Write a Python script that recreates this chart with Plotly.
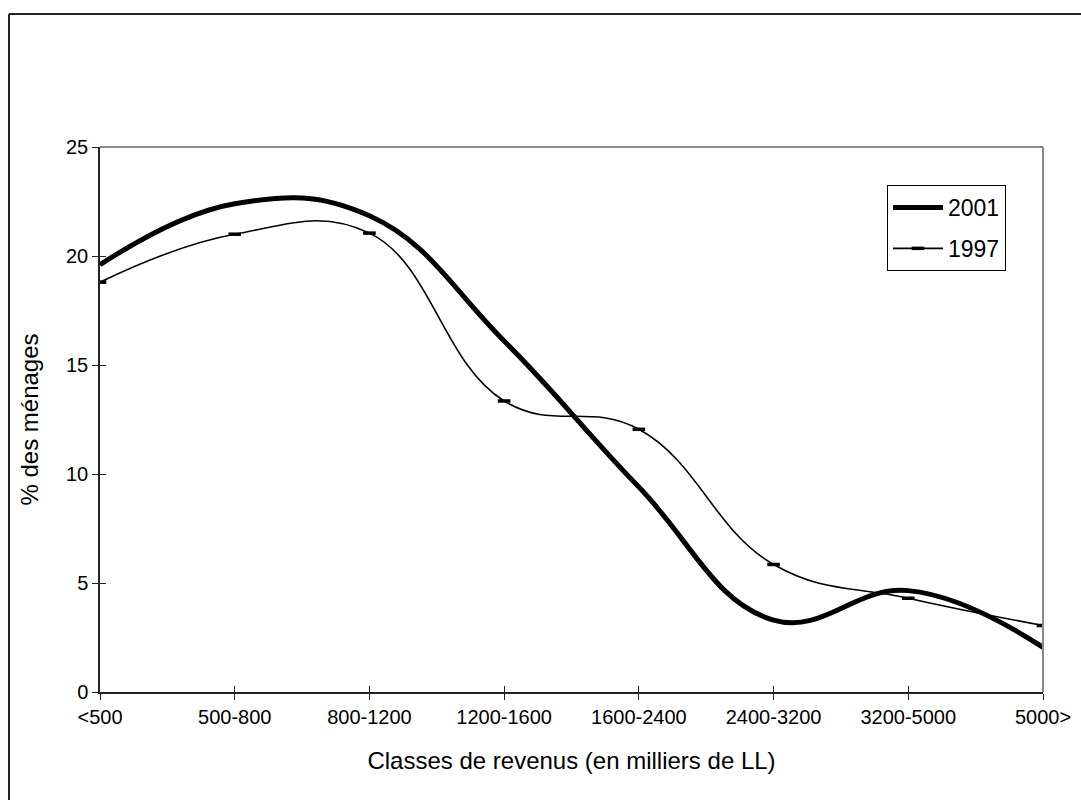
import plotly.graph_objects as go

categories = ["<500", "500-800", "800-1200", "1200-1600", "1600-2400", "2400-3200", "3200-5000", "5000>"]
values_2001 = [19.6, 22.4, 21.85, 16.1, 9.4, 3.3, 4.65, 2.05]
values_1997 = [18.8, 21.0, 21.05, 13.35, 12.05, 5.85, 4.3, 3.05]
y_ticks = [0, 5, 10, 15, 20, 25]

FONT = "Liberation Sans, Arial, sans-serif"
xi = list(range(len(categories)))

W, H = 1081, 800
L, R, T, B = 100, 38, 147, 108
pw, ph = W - L - R, H - T - B

fig = go.Figure()
fig.add_trace(go.Scatter(
    x=xi, y=values_2001, name="2001", mode="lines",
    line=dict(color="black", width=5, shape="spline", smoothing=1.2),
    legendgroup="a",
))
fig.add_trace(go.Scatter(
    x=xi, y=values_1997, name="1997", mode="lines+markers",
    line=dict(color="black", width=1.6, shape="spline", smoothing=1.2),
    marker=dict(symbol="line-ew", size=9, line=dict(color="black", width=3.5)),
    legendgroup="b",
))

xrange_ = [0, len(categories) - 1]
yrange_ = [0, 25]

fig.update_layout(
    width=W, height=H,
    margin=dict(l=L, r=R, t=T, b=B),
    paper_bgcolor="white", plot_bgcolor="white",
    font=dict(family=FONT, color="black", size=20),
    showlegend=True,
    legend=dict(
        x=(887 - L) / pw, y=(H - B - 185) / ph, xanchor="left", yanchor="top",
        bordercolor="black", borderwidth=1, bgcolor="white",
        font=dict(size=23, family=FONT),
        tracegroupgap=8, itemwidth=50,
    ),
    xaxis=dict(
        range=xrange_, tickvals=xi, ticktext=categories,
        showgrid=False, zeroline=False,
        showline=True, linecolor="#222", linewidth=1.5,
        ticks="outside", ticklen=6, tickcolor="#222", tickwidth=1.2,
        tickfont=dict(size=20, family=FONT),
        title=dict(text="Classes de revenus (en milliers de LL)", font=dict(size=24, family=FONT), standoff=25),
        automargin=False,
    ),
    yaxis=dict(
        range=yrange_, tickvals=y_ticks,
        showgrid=False, zeroline=False,
        showline=True, linecolor="#222", linewidth=1.5,
        ticks="outside", ticklen=6, tickcolor="#222", tickwidth=1.2,
        tickfont=dict(size=20, family=FONT),
        title=dict(text="% des ménages", font=dict(size=24, family=FONT), standoff=21),
        automargin=False,
    ),
    xaxis2=dict(
        overlaying="x", range=xrange_, tickvals=xi, showticklabels=False,
        ticks="inside", ticklen=6, tickcolor="#222", tickwidth=1.2,
        showgrid=False, zeroline=False, showline=False, side="bottom",
    ),
    yaxis2=dict(
        overlaying="y", range=yrange_, tickvals=y_ticks, showticklabels=False,
        ticks="inside", ticklen=6, tickcolor="#222", tickwidth=1.2,
        showgrid=False, zeroline=False, showline=False, side="left",
    ),
)

# invisible trace to activate the overlay axes
fig.add_trace(go.Scatter(x=[0], y=[0], xaxis="x2", yaxis="y2", mode="markers",
                         marker=dict(opacity=0), showlegend=False, hoverinfo="skip"))

# plot area border (top/right grey)
fig.add_shape(type="line", xref="paper", yref="paper", x0=0, x1=1, y0=1, y1=1,
              line=dict(color="#8a8a8a", width=2))
fig.add_shape(type="line", xref="paper", yref="paper", x0=1, x1=1, y0=0, y1=1,
              line=dict(color="#8a8a8a", width=2))

# outer chart frame (top and left visible)
fx0 = (9 - L) / pw
fy1 = (H - B - 14) / ph
fig.add_shape(type="line", xref="paper", yref="paper", x0=fx0, x1=(W + 20 - L) / pw, y0=fy1, y1=fy1,
              line=dict(color="#222", width=2))
fig.add_shape(type="line", xref="paper", yref="paper", x0=fx0, x1=fx0, y0=fy1, y1=-(B + 20) / ph,
              line=dict(color="#222", width=2))

fig.write_html("out.html")
